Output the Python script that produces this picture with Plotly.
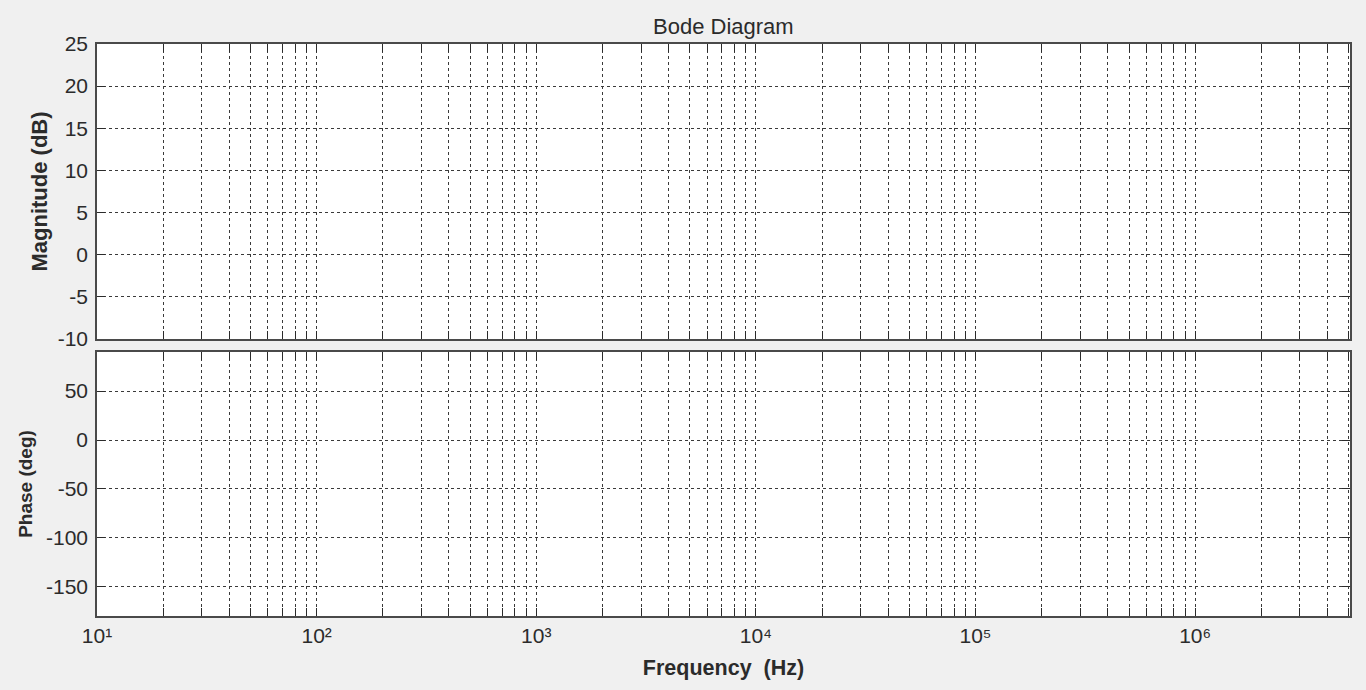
import plotly.graph_objects as go

# values (the axes are empty, only the frame and grid are drawn)
decades = [1, 2, 3, 4, 5, 6]
decade_labels = ["10¹", "10²", "10³", "10⁴", "10⁵", "10⁶"]
minor_steps = [2, 3, 4, 5, 6, 7, 8, 9]
freq_range = [1, 6.705]
mag_ticks = [-10, -5, 0, 5, 10, 15, 20, 25]
mag_range = [-10, 25]
phase_ticks = [-150, -100, -50, 0, 50]
phase_range = [-180, 90]
freq_hz = []
mag_db = []
phase_deg = []

freq_vals = [10 ** d for d in decades]
freq_minor = [m * 10 ** d for d in decades for m in minor_steps if m * 10 ** d < 10 ** freq_range[1]]

FONT = "Liberation Sans, Arial, sans-serif"
INK = "#2b2b2b"
GRID = "#3a3a3a"

fig = go.Figure()
fig.add_trace(go.Scatter(x=freq_hz, y=mag_db, mode="lines", xaxis="x", yaxis="y", showlegend=False))
fig.add_trace(go.Scatter(x=freq_hz, y=phase_deg, mode="lines", xaxis="x2", yaxis="y2", showlegend=False))

common_x = dict(type="log", range=freq_range, tickvals=freq_vals, ticktext=decade_labels,
                showgrid=True, gridcolor=GRID, griddash="3px,3px", gridwidth=1,
                ticks="inside", ticklen=8, tickcolor=INK, showline=True, linecolor="#4a4a4a",
                linewidth=1.5, mirror="ticks", zeroline=False,
                minor=dict(tickmode="array", tickvals=freq_minor, ticks="inside", ticklen=8,
                           tickcolor=INK, showgrid=True, gridcolor=GRID, griddash="3px,3px",
                           gridwidth=1))
common_y = dict(showgrid=True, gridcolor=GRID, griddash="3px,3px", gridwidth=1,
                ticks="inside", ticklen=8, tickcolor=INK, showline=True, linecolor="#4a4a4a",
                linewidth=1.5, mirror="ticks", zeroline=False, ticklabelstandoff=3,
                tickfont=dict(size=21))

fig.update_layout(
    width=1366, height=690,
    paper_bgcolor="#f0f0f0", plot_bgcolor="#ffffff",
    margin=dict(l=97, r=16, t=44, b=74),
    font=dict(family=FONT, size=20, color=INK),
    xaxis=dict(common_x, domain=[0, 1], anchor="y", showticklabels=False),
    xaxis2=dict(common_x, domain=[0, 1], anchor="y2", matches="x",
                tickfont=dict(size=21),
                title=dict(text="<b>Frequency  (Hz)</b>", font=dict(size=21.5), standoff=14)),
    yaxis=dict(common_y, domain=[0.4843, 1], anchor="x", range=mag_range, tickvals=mag_ticks,
               ticktext=[str(v) for v in mag_ticks],
               title=dict(text="<b>Magnitude (dB)</b>", font=dict(size=22), standoff=4)),
    yaxis2=dict(common_y, domain=[0, 0.4615], anchor="x2", range=phase_range, tickvals=phase_ticks,
                ticktext=[str(v) for v in phase_ticks],
                title=dict(text="<b>Phase (deg)</b>", font=dict(size=19), standoff=8)),
    annotations=[dict(text="Bode Diagram", x=0.5, y=1, xref="paper", yref="paper",
                      xanchor="center", yanchor="bottom", yshift=3, showarrow=False,
                      font=dict(size=22, color=INK))],
)

fig.write_html("out.html", config={"displayModeBar": False},
               post_script="document.body.style.margin='0';document.body.style.overflow='hidden';")
